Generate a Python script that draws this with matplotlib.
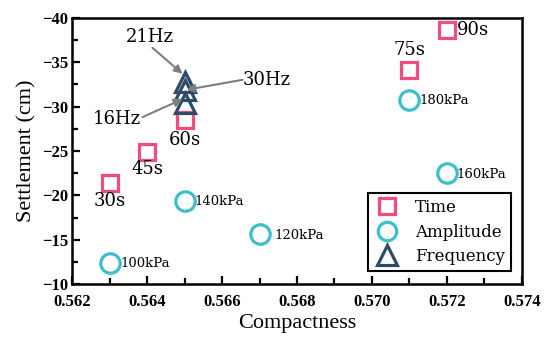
import matplotlib
matplotlib.use('Agg')
import matplotlib.pyplot as plt
from matplotlib.ticker import MultipleLocator
from matplotlib.transforms import offset_copy

# Datos
time_x = [0.563, 0.564, 0.565, 0.571, 0.572]
time_y = [-21.4, -24.9, -28.5, -34.1, -38.6]
time_lbl = ['30s', '45s', '60s', '75s', '90s']

amp_x = [0.563, 0.565, 0.567, 0.571, 0.572]
amp_y = [-12.4, -19.4, -15.6, -30.8, -22.5]
amp_lbl = ['100kPa', '140kPa', '120kPa', '180kPa', '160kPa']

freq_x = [0.565, 0.565, 0.565]
freq_y = [-30.4, -31.9, -32.8]
freq_lbl = ['16Hz', '30Hz', '21Hz']

c_time = '#f04c7c'
c_amp = '#3cbfcb'
c_freq = '#2d4a6a'

fig = plt.figure(figsize=(5.5, 3.52), dpi=100)
ax = fig.add_axes([0.131, 0.193, 0.818, 0.756])

ax.plot(time_x, time_y, 's', ms=12, mfc='none', mec=c_time, mew=2.3, label='Time')
ax.plot(amp_x, amp_y, 'o', ms=14, mfc='none', mec=c_amp, mew=2.3, label='Amplitude')
ax.plot(freq_x, freq_y, '^', ms=15, mfc='none', mec=c_freq, mew=2.3, label='Frequency')

# Etiquetas de tiempo
offs_time = [(0, -18, 'center'), (0, -17, 'center'), (0, -20, 'center'),
             (0, 20, 'center'), (10, 0, 'left')]
for x, y, t, (dx, dy, ha) in zip(time_x, time_y, time_lbl, offs_time):
    ax.annotate(t, (x, y), xytext=(dx, dy), textcoords='offset pixels',
                ha=ha, va='center', fontsize=13, family='DejaVu Serif')

# Etiquetas de amplitud
offs_amp = [11, 10, 15, 10, 9]
for x, y, t, dx in zip(amp_x, amp_y, amp_lbl, offs_amp):
    ax.annotate(t, (x, y), xytext=(dx, -1), textcoords='offset pixels',
                ha='left', va='center', fontsize=9.5, family='DejaVu Serif')

# Etiquetas de frecuencia con flechas
arrow = dict(arrowstyle='-|>', color='#7f7f7f', lw=1.5, mutation_scale=12,
             shrinkA=0, shrinkB=0)
txt_off = [(-68, -16), (58, 10), (-35, 45)]
arr_start = [(-42, -14), (58, 10), (-32, 34)]
arr_tip = [(-2, 4), (2, 0), (-2, 8)]
for x, y, t, o in zip(freq_x, freq_y, freq_lbl, txt_off):
    ha = 'left' if o[0] > 0 else 'center'
    ax.annotate(t, (x, y), xytext=o, textcoords='offset pixels',
                ha=ha, va='center', fontsize=13, family='DejaVu Serif')
for x, y, s, tip in zip(freq_x, freq_y, arr_start, arr_tip):
    # la flecha apunta al triángulo desde el texto
    tr = offset_copy(ax.transData, fig=fig, x=tip[0], y=tip[1], units='dots')
    ax.annotate('', (x, y), xycoords=tr, xytext=(s[0] - tip[0], s[1] - tip[1]),
                textcoords='offset pixels', arrowprops=arrow)

ax.set_xlim(0.562, 0.574)
ax.set_ylim(-10, -40)
ax.xaxis.set_major_locator(MultipleLocator(0.002))
ax.xaxis.set_minor_locator(MultipleLocator(0.001))
ax.yaxis.set_major_locator(MultipleLocator(5))
ax.yaxis.set_minor_locator(MultipleLocator(2.5))
ax.tick_params(which='both', direction='in', width=1.6)
ax.tick_params(which='major', length=6)
ax.tick_params(which='minor', length=4)
ax.tick_params(axis='x', which='major', pad=7)
ax.tick_params(axis='y', which='major', pad=3)
for s in ax.spines.values():
    s.set_linewidth(1.8)
ax.xaxis.set_major_formatter(plt.FuncFormatter(lambda v, p: '%.3f' % v))
ax.yaxis.set_major_formatter(plt.FuncFormatter(lambda v, p: '\u2212%d' % abs(round(v))))
for lab in ax.get_xticklabels() + ax.get_yticklabels():
    lab.set_family('Liberation Serif')
    lab.set_fontweight('bold')
    lab.set_fontsize(12)

ax.set_xlabel('Compactness', family='Liberation Serif', fontsize=16, labelpad=3)
ax.set_ylabel('Settlement (cm)', family='Liberation Serif', fontsize=16, labelpad=4)

leg = ax.legend(loc='lower right', prop={'family': 'DejaVu Serif', 'size': 12},
                fancybox=False, edgecolor='black', framealpha=1,
                handletextpad=0.9, borderpad=0.35, labelspacing=0.45,
                handlelength=1.6, markerscale=0.95, borderaxespad=0,
                bbox_to_anchor=(0.9756, 0.049))
leg.get_frame().set_linewidth(1.5)

fig.savefig('out.png', dpi=100)
